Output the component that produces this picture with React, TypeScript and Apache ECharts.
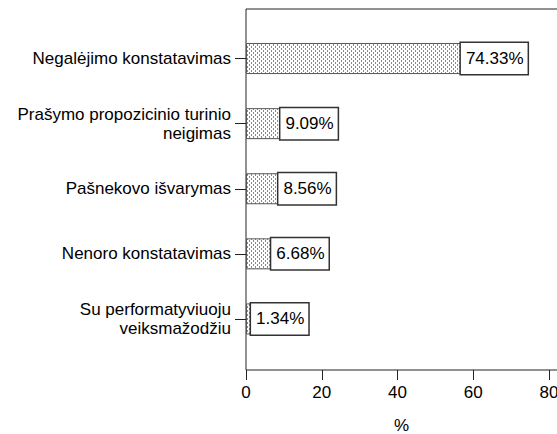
import React, { useEffect, useRef } from "react";
import * as echarts from "echarts";

const categories = [
  "Negalėjimo konstatavimas",
  "Prašymo propozicinio turinio\nneigimas",
  "Pašnekovo išvarymas",
  "Nenoro konstatavimas",
  "Su performatyviuoju\nveiksmažodžiu",
];
const percents = [74.33, 9.09, 8.56, 6.68, 1.34];
const xTicks = [0, 20, 40, 60, 80];
const axisTitle = "%";

const FONT = "'Liberation Sans', Arial, sans-serif";

function makePattern() {
  const c = document.createElement("canvas");
  c.width = 4;
  c.height = 4;
  const ctx = c.getContext("2d")!;
  ctx.fillStyle = "#ffffff";
  ctx.fillRect(0, 0, 4, 4);
  ctx.fillStyle = "#8a8a8a";
  ctx.fillRect(1, 0, 1, 2);
  ctx.fillRect(3, 2, 1, 2);
  return c;
}

export default function App() {
  const ref = useRef<HTMLDivElement>(null);
  useEffect(() => {
    if (!ref.current) return;
    const chart = echarts.init(ref.current, undefined, { renderer: "svg" });
    const pattern = {
      image: makePattern(),
      repeat: "repeat",
      imageWidth: 4,
      imageHeight: 4,
    };
    chart.setOption({
      animation: false,
      backgroundColor: "#ffffff",
      grid: [
        {
          left: 246,
          top: 9,
          right: -20,
          height: 361,
          show: true,
          borderColor: "#222",
          borderWidth: 1,
          backgroundColor: "transparent",
          outerBoundsMode: "none",
          containLabel: false,
        },
        {
          left: 246,
          top: 26,
          right: 0,
          height: 325.5,
          outerBoundsMode: "none",
          containLabel: false,
        },
      ],
      xAxis: [
        { gridIndex: 0, type: "value", show: false, min: 0, max: 1 },
        {
          gridIndex: 1,
          type: "value",
          min: 0,
          max: 82.1,
          interval: 20,
          offset: 18.5,
          name: axisTitle,
          nameLocation: "middle",
          nameGap: 47,
          nameTextStyle: { fontFamily: FONT, fontSize: 17, color: "#000" },
          axisLine: { show: false },
          axisTick: {
            show: true,
            length: 10,
            customValues: xTicks,
            lineStyle: { color: "#222", width: 1 },
          },
          axisLabel: {
            customValues: xTicks,
            margin: 14,
            fontFamily: FONT,
            fontSize: 17,
            color: "#000",
          },
          splitLine: { show: false },
        },
      ],
      yAxis: [
        { gridIndex: 0, type: "value", show: false, min: 0, max: 1 },
        {
          gridIndex: 1,
          type: "category",
          data: categories,
          inverse: true,
          axisLine: { show: false },
          axisTick: {
            show: true,
            length: 11,
            alignWithLabel: true,
            lineStyle: { color: "#222", width: 1 },
          },
          axisLabel: {
            margin: 15,
            fontFamily: FONT,
            fontSize: 17,
            lineHeight: 19,
            color: "#000",
            align: "right",
          },
        },
      ],
      series: [
        {
          type: "bar",
          xAxisIndex: 1,
          yAxisIndex: 1,
          barWidth: 31,
          data: percents.map((v) => ({
            value: v,
            label: { position: v > 30 ? "insideRight" : "right" },
          })),
          itemStyle: {
            color: pattern,
            borderColor: "#555",
            borderWidth: 1,
          },
          label: {
            show: true,
            distance: 0,
            formatter: (p: any) => p.value.toFixed(2) + "%",
            fontFamily: FONT,
            fontSize: 17,
            lineHeight: 17,
            color: "#000",
            backgroundColor: "#ffffff",
            borderColor: "#333",
            borderWidth: 1.5,
            padding: [7, 4, 7, 5],
          },
        },
      ],
    });
    return () => chart.dispose();
  }, []);
  return (
    <div
      ref={ref}
      style={{ position: "fixed", left: 0, top: 0, width: 557, height: 434 }}
    />
  );
}
